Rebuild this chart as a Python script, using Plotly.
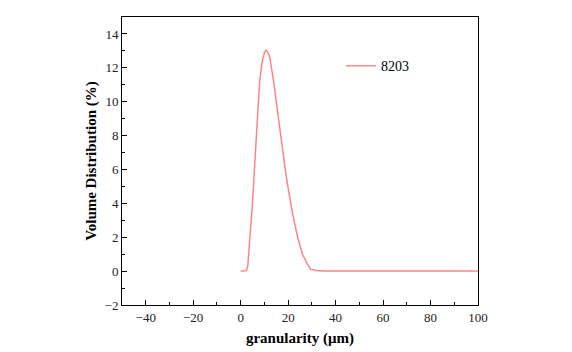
import plotly.graph_objects as go

x_um = [0, 1.5, 2.5, 3, 4, 5, 6, 7, 8, 9, 10, 10.7, 11.5, 12.3, 13, 14, 15, 16, 17, 18, 19, 20, 21, 22, 24, 26, 28, 29.5, 32, 35, 40, 50, 60, 70, 80, 90, 100]
vol_pct = [0, 0, 0.05, 0.3, 2.2, 4.0, 6.5, 9.1, 11.2, 12.3, 12.9, 13.05, 12.9, 12.6, 12.0, 11.1, 10.0, 8.9, 7.9, 6.9, 5.8, 4.9, 4.1, 3.3, 2.0, 1.0, 0.45, 0.1, 0.03, 0, 0, 0, 0, 0, 0, 0, 0]
series_name = "8203"

font_family = "Liberation Serif, Times New Roman, serif"

fig = go.Figure()
fig.add_trace(go.Scatter(x=x_um, y=vol_pct, mode="lines", name=series_name,
                         line=dict(color="#FF8585", width=1.5)))

axis_common = dict(showline=True, linecolor="black", linewidth=1, mirror=True,
                   ticks="inside", ticklen=5, tickwidth=1, tickcolor="black",
                   showgrid=False, zeroline=False, automargin=False,
                   tickfont=dict(family=font_family, size=13, color="#222222"))

fig.update_xaxes(range=[-50, 100], dtick=20, tick0=0,
                 minor=dict(ticks="inside", ticklen=3, dtick=10, tick0=0, tickcolor="black"),
                 title=dict(text="<b>granularity (μm)</b>", font=dict(family=font_family, size=15, color="black"), standoff=8),
                 **axis_common)
fig.update_yaxes(range=[-2, 15], dtick=2, tick0=0,
                 minor=dict(ticks="inside", ticklen=3, dtick=1, tick0=0, tickcolor="black"),
                 title=dict(text="<b>Volume Distribution (%)</b>", font=dict(family=font_family, size=15, color="black"), standoff=4),
                 **axis_common)

fig.update_layout(width=572, height=352, margin=dict(l=122, r=94, t=17, b=47),
                  plot_bgcolor="white", paper_bgcolor="white",
                  showlegend=True,
                  legend=dict(x=0.615, y=0.885, xanchor="left", yanchor="top",
                              bgcolor="rgba(0,0,0,0)",
                              font=dict(family=font_family, size=14, color="black")))

fig.write_html("out.html")
